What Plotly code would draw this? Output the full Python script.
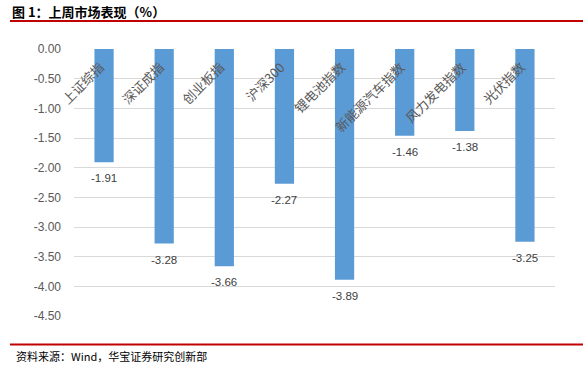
import plotly.graph_objects as go

categories = ["上证综指", "深证成指", "创业板指", "沪深300", "锂电池指数", "新能源汽车指数", "风力发电指数", "光伏指数"]
values = [-1.91, -3.28, -3.66, -2.27, -3.89, -1.46, -1.38, -3.25]
tick_vals = [0, -0.5, -1, -1.5, -2, -2.5, -3, -3.5, -4, -4.5]
tick_text = ["%.2f" % v for v in tick_vals]

title_text = "图 1：上周市场表现（%）"
source_text = "资料来源：Wind，华宝证券研究创新部"

W, H = 583, 366
PL, PR, PT, PB = 74, 555, 49, 316

def px_x(px):
    return (px - PL) / (PR - PL)

def px_y(py):
    return (PB - py) / (PB - PT)

fig = go.Figure()
fig.add_trace(go.Bar(
    x=categories, y=values, width=0.32,
    marker=dict(color="#5b9bd5", line=dict(width=0)),
    cliponaxis=False,
))

annotations = []
for c, v in zip(categories, values):
    annotations.append(dict(
        x=c, y=v, xref="x", yref="y", text="%.2f" % v, showarrow=False,
        xanchor="center", yanchor="top", yshift=-8,
        font=dict(family="Liberation Sans, Arial", size=11.5, color="#404040"),
    ))
for c in categories:
    annotations.append(dict(
        x=c, y=0, xref="x", yref="y", text=c, textangle=-45, showarrow=False,
        xanchor="right", yanchor="top", xshift=7, yshift=-6,
        font=dict(family="Noto Sans CJK SC", size=13, color="#595959"),
    ))
annotations.append(dict(
    x=px_x(10), y=px_y(11), xref="paper", yref="paper", text="<b>" + title_text + "</b>",
    showarrow=False, xanchor="left", yanchor="middle",
    font=dict(family="Noto Sans CJK SC", size=13, color="#000000"),
))
annotations.append(dict(
    x=px_x(14), y=px_y(356), xref="paper", yref="paper", text=source_text,
    showarrow=False, xanchor="left", yanchor="middle",
    font=dict(family="Noto Sans CJK SC", size=11, color="#000000"),
))

shapes = [
    dict(type="line", xref="paper", yref="paper", x0=px_x(10), x1=px_x(583), y0=px_y(21), y1=px_y(21),
         line=dict(color="#c00000", width=2)),
    dict(type="line", xref="paper", yref="paper", x0=px_x(10), x1=px_x(583), y0=px_y(344.5), y1=px_y(344.5),
         line=dict(color="#c00000", width=2)),
]

fig.update_layout(
    width=W, height=H,
    margin=dict(l=PL, r=W - PR, t=PT, b=H - PB, pad=0, autoexpand=False),
    paper_bgcolor="white", plot_bgcolor="white",
    showlegend=False,
    annotations=annotations, shapes=shapes,
    xaxis=dict(range=[-0.5, 7.5], showticklabels=False, showgrid=False, zeroline=False,
               showline=False, ticks="", automargin=False),
    yaxis=dict(range=[-4.5, 0], tickvals=tick_vals, ticktext=tick_text, showgrid=True,
               gridcolor="#d9d9d9", gridwidth=1, zeroline=False, showline=False, ticks="",
               ticklabelstandoff=12, automargin=False,
               tickfont=dict(family="Liberation Sans, Arial", size=12, color="#595959")),
)

fig.write_html("out.html")
